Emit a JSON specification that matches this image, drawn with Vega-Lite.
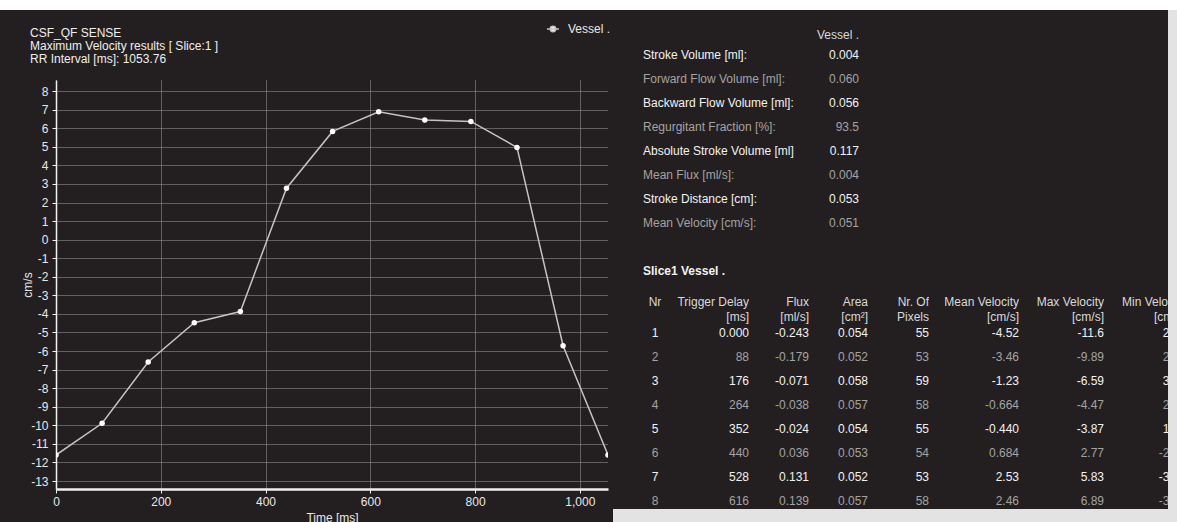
{
  "$schema": "https://vega.github.io/schema/vega-lite/v6.json",
  "background": "#231f20",
  "padding": 0,
  "config": {
    "view": {"stroke": null},
    "font": "Liberation Sans",
    "text": {"font": "Liberation Sans", "fontSize": 12},
    "concat": {"spacing": 0}
  },
  "datasets": {
    "curve": [
      {"time": 0, "vel": -11.6, "series": "Vessel ."},
      {"time": 88, "vel": -9.89, "series": "Vessel ."},
      {"time": 176, "vel": -6.59, "series": "Vessel ."},
      {"time": 264, "vel": -4.47, "series": "Vessel ."},
      {"time": 352, "vel": -3.87, "series": "Vessel ."},
      {"time": 440, "vel": 2.77, "series": "Vessel ."},
      {"time": 528, "vel": 5.83, "series": "Vessel ."},
      {"time": 616, "vel": 6.89, "series": "Vessel ."},
      {"time": 704, "vel": 6.45, "series": "Vessel ."},
      {"time": 792, "vel": 6.37, "series": "Vessel ."},
      {"time": 880, "vel": 4.97, "series": "Vessel ."},
      {"time": 968, "vel": -5.71, "series": "Vessel ."},
      {"time": 1053.76, "vel": -11.6, "series": "Vessel ."}
    ],
    "summary": [
      {"row": 1, "label": "Stroke Volume [ml]:", "value": "0.004"},
      {"row": 2, "label": "Forward Flow Volume [ml]:", "value": "0.060"},
      {"row": 3, "label": "Backward Flow Volume [ml]:", "value": "0.056"},
      {"row": 4, "label": "Regurgitant Fraction [%]:", "value": "93.5"},
      {"row": 5, "label": "Absolute Stroke Volume [ml]", "value": "0.117"},
      {"row": 6, "label": "Mean Flux [ml/s]:", "value": "0.004"},
      {"row": 7, "label": "Stroke Distance [cm]:", "value": "0.053"},
      {"row": 8, "label": "Mean Velocity [cm/s]:", "value": "0.051"}
    ],
    "sections": [
      {"row": 0, "text": "Vessel .", "kind": "header"},
      {"row": 10, "text": "Slice1 Vessel .", "kind": "section"}
    ],
    "table": [
      {"Nr": 1, "Delay": "0.000", "Flux": "-0.243", "Area": "0.054", "Pixels": "55", "MeanV": "-4.52", "MaxV": "-11.6", "MinV": "2.33"},
      {"Nr": 2, "Delay": "88", "Flux": "-0.179", "Area": "0.052", "Pixels": "53", "MeanV": "-3.46", "MaxV": "-9.89", "MinV": "2.35"},
      {"Nr": 3, "Delay": "176", "Flux": "-0.071", "Area": "0.058", "Pixels": "59", "MeanV": "-1.23", "MaxV": "-6.59", "MinV": "3.06"},
      {"Nr": 4, "Delay": "264", "Flux": "-0.038", "Area": "0.057", "Pixels": "58", "MeanV": "-0.664", "MaxV": "-4.47", "MinV": "2.22"},
      {"Nr": 5, "Delay": "352", "Flux": "-0.024", "Area": "0.054", "Pixels": "55", "MeanV": "-0.440", "MaxV": "-3.87", "MinV": "1.52"},
      {"Nr": 6, "Delay": "440", "Flux": "0.036", "Area": "0.053", "Pixels": "54", "MeanV": "0.684", "MaxV": "2.77", "MinV": "-2.22"},
      {"Nr": 7, "Delay": "528", "Flux": "0.131", "Area": "0.052", "Pixels": "53", "MeanV": "2.53", "MaxV": "5.83", "MinV": "-3.37"},
      {"Nr": 8, "Delay": "616", "Flux": "0.139", "Area": "0.057", "Pixels": "58", "MeanV": "2.46", "MaxV": "6.89", "MinV": "-3.61"}
    ],
    "headers": [
      {"col": "Nr", "h": ["Nr", ""]},
      {"col": "Delay", "h": ["Trigger Delay", "[ms]"]},
      {"col": "Flux", "h": ["Flux", "[ml/s]"]},
      {"col": "Area", "h": ["Area", "[cm²]"]},
      {"col": "Pixels", "h": ["Nr. Of", "Pixels"]},
      {"col": "MeanV", "h": ["Mean Velocity", "[cm/s]"]},
      {"col": "MaxV", "h": ["Max Velocity", "[cm/s]"]},
      {"col": "MinV", "h": ["Min Velocity", "[cm/s]"]}
    ]
  },
  "spacing": 0,
  "bounds": "full",
  "resolve": {"scale": {"color": "independent"}, "legend": {"color": "independent"}},
  "vconcat": [
    {
      "width": 1177, "height": 10,
      "view": {"fill": "#ffffff", "stroke": null},
      "data": {"values": []},
      "mark": "point"
    },
    {
      "spacing": 2,
      "bounds": "full",
      "resolve": {"scale": {"color": "independent"}, "legend": {"color": "independent"}},
      "hconcat": [
        {
          "width": 19, "height": 512,
          "data": {"values": []},
          "mark": "point"
        },
        {
          "spacing": 69,
          "bounds": "flush",
          "resolve": {"scale": {"color": "independent"}, "legend": {"color": "independent"}},
          "vconcat": [
            {
              "width": 552, "height": 1,
              "data": {"values": []},
              "mark": "point",
              "title": {
                "text": ["CSF_QF SENSE", "Maximum Velocity results [ Slice:1 ]", "RR Interval [ms]: 1053.76"],
                "orient": "bottom", "anchor": "start", "frame": "group", "dx": -26, "offset": 17,
                "font": "Liberation Sans", "fontSize": 12, "fontWeight": "normal", "color": "#eeeeee",
                "lineHeight": 12.8
              }
            },
            {
              "width": 552, "height": 409,
              "data": {"name": "curve"},
              "layer": [
                {
                  "mark": {"type": "line", "strokeWidth": 1.5, "clip": true},
                  "encoding": {
                    "x": {
                      "field": "time", "type": "quantitative",
                      "scale": {"domain": [0, 1053.76], "nice": false, "zero": false},
                      "axis": {
                        "title": "Time [ms]", "values": [0, 200, 400, 600, 800, 1000], "format": ",d",
                        "grid": true, "gridColor": "#a0a0a0", "gridDash": [1, 1], "gridWidth": 1,
                        "domainColor": "#f0f0f0", "domainWidth": 2.5, "tickColor": "#f0f0f0", "tickSize": 4,
                        "labelColor": "#e8e8e8", "labelFontSize": 12, "labelFont": "Liberation Sans", "labelPadding": 3,
                        "labelFlush": false, "labelOverlap": false, "labelBound": false,
                        "titleColor": "#e8e8e8", "titleFontSize": 12, "titleFont": "Liberation Sans", "titleFontWeight": "normal", "titlePadding": 5
                      }
                    },
                    "y": {
                      "field": "vel", "type": "quantitative",
                      "scale": {"domain": [-13.43, 8.6], "nice": false, "zero": false},
                      "axis": {
                        "title": "cm/s", "values": [-13, -12, -11, -10, -9, -8, -7, -6, -5, -4, -3, -2, -1, 0, 1, 2, 3, 4, 5, 6, 7, 8],
                        "tickCount": 40,
                        "labelExpr": "'' + datum.value",
                        "grid": true, "gridColor": "#a0a0a0", "gridDash": [1, 1], "gridWidth": 1,
                        "domainColor": "#f0f0f0", "domainWidth": 1.5, "tickColor": "#f0f0f0", "tickSize": 4,
                        "labelColor": "#e8e8e8", "labelFontSize": 12, "labelFont": "Liberation Sans", "labelPadding": 4,
                        "labelOverlap": false,
                        "titleColor": "#e8e8e8", "titleFontSize": 12, "titleFont": "Liberation Sans", "titleFontWeight": "normal",
                        "titleX": -29, "titleY": 204.5, "titleAngle": -90, "titleAlign": "center", "titleBaseline": "middle"
                      }
                    },
                    "color": {
                      "field": "series", "type": "nominal",
                      "scale": {"range": ["#c4c4c4"]},
                      "legend": {
                        "orient": "none", "legendX": 490, "legendY": -58, "title": null, "padding": 0,
                        "symbolType": "M-1,0L1,0M-0.45,0A0.45,0.45 0 1,1 0.45,0A0.45,0.45 0 1,1 -0.45,0Z",
                        "symbolSize": 144, "symbolStrokeWidth": 1.5, "symbolStrokeColor": "#f5f5f5", "symbolFillColor": "#f5f5f5",
                        "labelColor": "#e8e8e8", "labelFontSize": 12, "labelFont": "Liberation Sans", "labelOffset": 8
                      }
                    }
                  }
                },
                {
                  "mark": {"type": "point", "filled": true, "size": 30, "opacity": 1, "color": "#ffffff", "clip": true},
                  "encoding": {
                    "x": {"field": "time", "type": "quantitative"},
                    "y": {"field": "vel", "type": "quantitative"}
                  }
                }
              ]
            }
          ]
        },
        {
          "spacing": 0,
          "bounds": "full",
          "vconcat": [
            {
              "spacing": 0,
              "bounds": "full",
              "vconcat": [
                {
                  "spacing": 0,
                  "bounds": "flush",
                  "hconcat": [
                    {"width": 30, "height": 270, "data": {"values": []}, "mark": "point"},
                    {
                      "width": 216, "height": 270,
                      "layer": [
                        {
                          "data": {"name": "summary"},
                          "mark": {"type": "text", "align": "left"},
                          "encoding": {
                            "x": {"datum": "label", "type": "nominal", "scale": {"type": "point", "domain": ["label", "value"], "padding": 0}, "axis": null},
                            "y": {"field": "row", "type": "quantitative", "scale": {"domain": [-0.875, 10.375], "reverse": true, "nice": false, "zero": false}, "axis": null},
                            "text": {"field": "label", "type": "nominal"},
                            "color": {"condition": {"test": "datum.row % 2 === 0", "value": "#a3a3a3"}, "value": "#f2f2f2"}
                          }
                        },
                        {
                          "data": {"name": "summary"},
                          "mark": {"type": "text", "align": "right"},
                          "encoding": {
                            "x": {"datum": "value", "type": "nominal"},
                            "y": {"field": "row", "type": "quantitative"},
                            "text": {"field": "value", "type": "nominal"},
                            "color": {"condition": {"test": "datum.row % 2 === 0", "value": "#a3a3a3"}, "value": "#f2f2f2"}
                          }
                        },
                        {
                          "data": {"name": "sections"},
                          "transform": [{"filter": "datum.kind === 'header'"}],
                          "mark": {"type": "text", "align": "right", "dy": 4, "color": "#d9d9d9"},
                          "encoding": {
                            "x": {"datum": "value", "type": "nominal"},
                            "y": {"field": "row", "type": "quantitative"},
                            "text": {"field": "text", "type": "nominal"}
                          }
                        },
                        {
                          "data": {"name": "sections"},
                          "transform": [{"filter": "datum.kind === 'section'"}],
                          "mark": {"type": "text", "align": "left", "fontWeight": "bold", "color": "#f2f2f2"},
                          "encoding": {
                            "x": {"datum": "label", "type": "nominal"},
                            "y": {"field": "row", "type": "quantitative"},
                            "text": {"field": "text", "type": "nominal"}
                          }
                        }
                      ]
                    },
                    {"width": 309, "height": 270, "data": {"values": []}, "mark": "point"},
                    {
                      "width": 9, "height": 270,
                      "view": {"fill": "#e3e3e3", "stroke": null},
                      "data": {"values": []},
                      "mark": "point"
                    }
                  ]
                },
                {
                  "spacing": 0,
                  "bounds": "flush",
                  "hconcat": [
                    {"width": 30, "height": 229, "data": {"values": []}, "mark": "point"},
                    {
                      "width": 24, "height": 229,
                      "layer": [
                        {
                          "data": {"name": "headers"},
                          "transform": [{"filter": "datum.col === 'Nr'"}],
                          "mark": {"type": "text", "align": "center", "lineHeight": 15, "color": "#d9d9d9", "clip": true},
                          "encoding": {
                            "y": {"datum": -0.29, "type": "quantitative", "scale": {"domain": [-1.2083, 8.3333], "reverse": true, "nice": false, "zero": false}, "axis": null},
                            "text": {"field": "h", "type": "nominal"}
                          }
                        },
                        {
                          "data": {"name": "table"},
                          "mark": {"type": "text", "align": "center", "clip": true},
                          "encoding": {
                            "y": {"field": "Nr", "type": "quantitative"},
                            "text": {"field": "Nr", "type": "nominal"},
                            "color": {"condition": {"test": "datum.Nr % 2 === 0", "value": "#a3a3a3"}, "value": "#f2f2f2"}
                          }
                        }
                      ]
                    },
                    {
                      "width": 82, "height": 229,
                      "layer": [
                        {
                          "data": {"name": "headers"},
                          "transform": [{"filter": "datum.col === 'Delay'"}],
                          "mark": {"type": "text", "align": "right", "lineHeight": 15, "color": "#d9d9d9", "clip": true},
                          "encoding": {
                            "x": {"value": "width"},
                            "y": {"datum": -0.29, "type": "quantitative", "scale": {"domain": [-1.2083, 8.3333], "reverse": true, "nice": false, "zero": false}, "axis": null},
                            "text": {"field": "h", "type": "nominal"}
                          }
                        },
                        {
                          "data": {"name": "table"},
                          "mark": {"type": "text", "align": "right", "clip": true},
                          "encoding": {
                            "x": {"value": "width"},
                            "y": {"field": "Nr", "type": "quantitative"},
                            "text": {"field": "Delay", "type": "nominal"},
                            "color": {"condition": {"test": "datum.Nr % 2 === 0", "value": "#a3a3a3"}, "value": "#f2f2f2"}
                          }
                        }
                      ]
                    },
                    {
                      "width": 60, "height": 229,
                      "layer": [
                        {
                          "data": {"name": "headers"},
                          "transform": [{"filter": "datum.col === 'Flux'"}],
                          "mark": {"type": "text", "align": "right", "lineHeight": 15, "color": "#d9d9d9", "clip": true},
                          "encoding": {
                            "x": {"value": "width"},
                            "y": {"datum": -0.29, "type": "quantitative", "scale": {"domain": [-1.2083, 8.3333], "reverse": true, "nice": false, "zero": false}, "axis": null},
                            "text": {"field": "h", "type": "nominal"}
                          }
                        },
                        {
                          "data": {"name": "table"},
                          "mark": {"type": "text", "align": "right", "clip": true},
                          "encoding": {
                            "x": {"value": "width"},
                            "y": {"field": "Nr", "type": "quantitative"},
                            "text": {"field": "Flux", "type": "nominal"},
                            "color": {"condition": {"test": "datum.Nr % 2 === 0", "value": "#a3a3a3"}, "value": "#f2f2f2"}
                          }
                        }
                      ]
                    },
                    {
                      "width": 59, "height": 229,
                      "layer": [
                        {
                          "data": {"name": "headers"},
                          "transform": [{"filter": "datum.col === 'Area'"}],
                          "mark": {"type": "text", "align": "right", "lineHeight": 15, "color": "#d9d9d9", "clip": true},
                          "encoding": {
                            "x": {"value": "width"},
                            "y": {"datum": -0.29, "type": "quantitative", "scale": {"domain": [-1.2083, 8.3333], "reverse": true, "nice": false, "zero": false}, "axis": null},
                            "text": {"field": "h", "type": "nominal"}
                          }
                        },
                        {
                          "data": {"name": "table"},
                          "mark": {"type": "text", "align": "right", "clip": true},
                          "encoding": {
                            "x": {"value": "width"},
                            "y": {"field": "Nr", "type": "quantitative"},
                            "text": {"field": "Area", "type": "nominal"},
                            "color": {"condition": {"test": "datum.Nr % 2 === 0", "value": "#a3a3a3"}, "value": "#f2f2f2"}
                          }
                        }
                      ]
                    },
                    {
                      "width": 61, "height": 229,
                      "layer": [
                        {
                          "data": {"name": "headers"},
                          "transform": [{"filter": "datum.col === 'Pixels'"}],
                          "mark": {"type": "text", "align": "right", "lineHeight": 15, "color": "#d9d9d9", "clip": true},
                          "encoding": {
                            "x": {"value": "width"},
                            "y": {"datum": -0.29, "type": "quantitative", "scale": {"domain": [-1.2083, 8.3333], "reverse": true, "nice": false, "zero": false}, "axis": null},
                            "text": {"field": "h", "type": "nominal"}
                          }
                        },
                        {
                          "data": {"name": "table"},
                          "mark": {"type": "text", "align": "right", "clip": true},
                          "encoding": {
                            "x": {"value": "width"},
                            "y": {"field": "Nr", "type": "quantitative"},
                            "text": {"field": "Pixels", "type": "nominal"},
                            "color": {"condition": {"test": "datum.Nr % 2 === 0", "value": "#a3a3a3"}, "value": "#f2f2f2"}
                          }
                        }
                      ]
                    },
                    {
                      "width": 90, "height": 229,
                      "layer": [
                        {
                          "data": {"name": "headers"},
                          "transform": [{"filter": "datum.col === 'MeanV'"}],
                          "mark": {"type": "text", "align": "right", "lineHeight": 15, "color": "#d9d9d9", "clip": true},
                          "encoding": {
                            "x": {"value": "width"},
                            "y": {"datum": -0.29, "type": "quantitative", "scale": {"domain": [-1.2083, 8.3333], "reverse": true, "nice": false, "zero": false}, "axis": null},
                            "text": {"field": "h", "type": "nominal"}
                          }
                        },
                        {
                          "data": {"name": "table"},
                          "mark": {"type": "text", "align": "right", "clip": true},
                          "encoding": {
                            "x": {"value": "width"},
                            "y": {"field": "Nr", "type": "quantitative"},
                            "text": {"field": "MeanV", "type": "nominal"},
                            "color": {"condition": {"test": "datum.Nr % 2 === 0", "value": "#a3a3a3"}, "value": "#f2f2f2"}
                          }
                        }
                      ]
                    },
                    {
                      "width": 85, "height": 229,
                      "layer": [
                        {
                          "data": {"name": "headers"},
                          "transform": [{"filter": "datum.col === 'MaxV'"}],
                          "mark": {"type": "text", "align": "right", "lineHeight": 15, "color": "#d9d9d9", "clip": true},
                          "encoding": {
                            "x": {"value": "width"},
                            "y": {"datum": -0.29, "type": "quantitative", "scale": {"domain": [-1.2083, 8.3333], "reverse": true, "nice": false, "zero": false}, "axis": null},
                            "text": {"field": "h", "type": "nominal"}
                          }
                        },
                        {
                          "data": {"name": "table"},
                          "mark": {"type": "text", "align": "right", "clip": true},
                          "encoding": {
                            "x": {"value": "width"},
                            "y": {"field": "Nr", "type": "quantitative"},
                            "text": {"field": "MaxV", "type": "nominal"},
                            "color": {"condition": {"test": "datum.Nr % 2 === 0", "value": "#a3a3a3"}, "value": "#f2f2f2"}
                          }
                        }
                      ]
                    },
                    {
                      "width": 64, "height": 229,
                      "layer": [
                        {
                          "data": {"name": "headers"},
                          "transform": [{"filter": "datum.col === 'MinV'"}],
                          "mark": {"type": "text", "align": "right", "lineHeight": 15, "color": "#d9d9d9", "clip": true, "dx": 18},
                          "encoding": {
                            "x": {"value": "width"},
                            "y": {"datum": -0.29, "type": "quantitative", "scale": {"domain": [-1.2083, 8.3333], "reverse": true, "nice": false, "zero": false}, "axis": null},
                            "text": {"field": "h", "type": "nominal"}
                          }
                        },
                        {
                          "data": {"name": "table"},
                          "mark": {"type": "text", "align": "right", "clip": true, "dx": 18},
                          "encoding": {
                            "x": {"value": "width"},
                            "y": {"field": "Nr", "type": "quantitative"},
                            "text": {"field": "MinV", "type": "nominal"},
                            "color": {"condition": {"test": "datum.Nr % 2 === 0", "value": "#a3a3a3"}, "value": "#f2f2f2"}
                          }
                        }
                      ]
                    },
                    {
                      "width": 9, "height": 229,
                      "view": {"fill": "#e3e3e3", "stroke": null},
                      "data": {"values": []},
                      "mark": "point"
                    }
                  ]
                }
              ]
            },
            {
              "width": 564, "height": 13,
              "view": {"fill": "#e3e3e3", "stroke": null},
              "data": {"values": []},
              "mark": "point"
            }
          ]
        }
      ]
    }
  ]
}
